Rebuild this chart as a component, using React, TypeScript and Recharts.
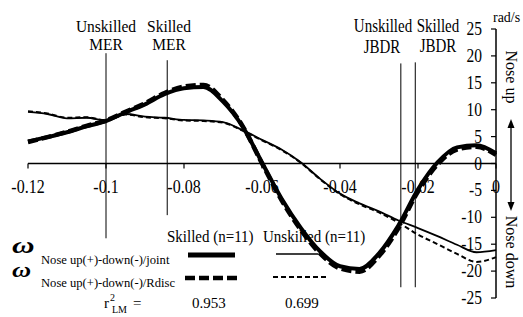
import React from "react";
import { LineChart, Line, XAxis, YAxis, ReferenceLine, ReferenceDot } from "recharts";

// time before ball release (s)
const time = [
  -0.12, -0.115, -0.11, -0.105, -0.1, -0.095, -0.09, -0.085, -0.08, -0.075, -0.07, -0.065, -0.06,
  -0.055, -0.05, -0.045, -0.04, -0.035, -0.03, -0.025, -0.02, -0.015, -0.01, -0.005, 0,
];

// angular velocity, nose up(+) / down(-), rad/s
const skilledJoint = [
  4.1, 4.9, 5.8, 6.9, 7.9, 9.5, 11.0, 12.9, 14.0, 14.2, 11.5, 6.9, 0.2,
  -6.5, -12.0, -16.4, -19.1, -19.6, -16.7, -11.5, -4.8, 0.2, 3.0, 3.4, 1.9,
];
const skilledRdisc = [
  4.0, 4.9, 5.9, 7.0, 8.0, 9.6, 11.2, 13.1, 14.3, 14.6, 11.8, 7.0, 0.0,
  -6.8, -12.4, -16.8, -19.5, -20.1, -17.2, -12.0, -5.2, -0.2, 2.6, 3.1, 1.6,
];
const unskilledJoint = [
  9.6, 9.2, 8.4, 8.5, 8.0, 9.2, 8.7, 8.5, 8.1, 8.0, 7.7, 6.2, 4.4,
  2.6, 0.2, -2.9, -5.6, -7.4, -8.9, -10.6, -12.0, -13.5, -15.1, -16.5, -16.1,
];
const unskilledRdisc = [
  9.7, 9.3, 8.5, 8.6, 8.0, 9.1, 8.6, 8.4, 8.0, 7.9, 7.6, 6.1, 4.3,
  2.5, 0.1, -3.0, -5.7, -7.6, -9.1, -11.0, -13.2, -15.0, -16.8, -18.3, -17.4,
];

const xTicks = [-0.12, -0.1, -0.08, -0.06, -0.04, -0.02, 0];
const xTickLabels = ["-0.12", "-0.1", "-0.08", "-0.06", "-0.04", "-0.02", "0"];
const yTicks = [-25, -20, -15, -10, -5, 0, 5, 10, 15, 20, 25];

const eventNames = ["Unskilled MER", "Skilled MER", "Unskilled JBDR", "Skilled JBDR"];
const eventTimes = [-0.1, -0.0843, -0.0244, -0.0207];
const eventTop = [20.5, 19.2, 18.6, 18.8];
const eventBottom = [-13.9, -9.6, -23, -23];

const rows = time.map((t, i) => ({
  t,
  sj: skilledJoint[i],
  sr: skilledRdisc[i],
  uj: unskilledJoint[i],
  ur: unskilledRdisc[i],
}));

const serif = '"Liberation Serif", "DejaVu Serif", serif';

// the source figure's lettering is a bit stretched vertically, hence sy
function T({ x, y, size, sy = 1.2, anchor = "start", children }: any) {
  return (
    <text
      transform={`translate(${x} ${y}) scale(1 ${sy})`}
      fontSize={size}
      textAnchor={anchor}
      fill="#000"
      style={{ fontFamily: serif }}
    >
      {children}
    </text>
  );
}

function XTick(props: any) {
  const { cx, cy, label } = props;
  return (
    <g>
      <line x1={cx} y1={cy} x2={cx} y2={cy + 5} stroke="#000" strokeWidth={1.2} />
      <T x={cx} y={cy + 29} size={16} anchor="middle">{label}</T>
    </g>
  );
}

function YTick(props: any) {
  const { x, y, payload } = props;
  return <T x={x} y={y + 6} size={15.5} anchor="end">{payload.value}</T>;
}

function Annotations() {
  return (
    <svg width={523} height={317} style={{ position: "absolute", left: 0, top: 0 }}>
      <T x={106} y={32} size={15.5} sy={1.05} anchor="middle">Unskilled</T>
      <T x={106} y={50} size={15.5} sy={1.05} anchor="middle">MER</T>
      <T x={169} y={32} size={15.5} sy={1.05} anchor="middle">Skilled</T>
      <T x={169} y={50} size={15.5} sy={1.05} anchor="middle">MER</T>
      <T x={383} y={32} size={15} anchor="middle">Unskilled</T>
      <T x={382} y={53} size={15} anchor="middle">JBDR</T>
      <T x={438} y={32} size={15} anchor="middle">Skilled</T>
      <T x={438} y={52} size={15} anchor="middle">JBDR</T>
      <T x={493} y={22} size={14} sy={1.1}>rad/s</T>

      <text x={511} y={77} fontSize={16} fill="#000" textAnchor="middle" dominantBaseline="central"
        style={{ fontFamily: serif }} transform="rotate(90 511 77)">Nose up</text>
      <text x={511} y={252} fontSize={16} fill="#000" textAnchor="middle" dominantBaseline="central"
        style={{ fontFamily: serif }} transform="rotate(90 511 252)">Nose down</text>
      <line x1={511} y1={126} x2={511} y2={204} stroke="#000" strokeWidth={1.3} />
      <polygon points="511,119 507.5,128 514.5,128" fill="#000" />
      <polygon points="511,211 507.5,202 514.5,202" fill="#000" />

      <T x={167} y={242} size={15} sy={1.07}>Skilled (n=11)</T>
      <T x={263} y={242} size={15} sy={1.07}>Unskilled (n=11)</T>
      <line x1={188} y1={255} x2={235} y2={255} stroke="#000" strokeWidth={5} />
      <line x1={185} y1={278} x2={237} y2={278} stroke="#000" strokeWidth={4.5} strokeDasharray="10 4" />
      <line x1={276} y1={254} x2={318} y2={254} stroke="#000" strokeWidth={1.6} />
      <line x1={273} y1={277} x2={327} y2={277} stroke="#000" strokeWidth={2} strokeDasharray="5 3" />

      <text transform="translate(12 253) scale(1.3 1)" fontSize={24} fontWeight="bold" fontStyle="italic"
        fill="#000" style={{ fontFamily: serif }}>ω</text>
      <text transform="translate(12 277) scale(1.2 1)" fontSize={22} fontWeight="bold" fontStyle="italic"
        fill="#000" style={{ fontFamily: serif }}>ω</text>
      <T x={41} y={264} size={12.6} sy={0.92}>Nose up(+)-down(-)/joint</T>
      <T x={41} y={287} size={12.6} sy={0.92}>Nose up(+)-down(-)/Rdisc</T>

      <T x={104} y={308} size={15} sy={0.95}>r</T>
      <T x={110} y={301} size={10} sy={1}>2</T>
      <T x={112} y={313} size={10} sy={1}>LM</T>
      <T x={133} y={308} size={15} sy={0.95}>=</T>
      <T x={192} y={308} size={15} sy={1}>0.953</T>
      <T x={285} y={308} size={15} sy={1}>0.699</T>
    </svg>
  );
}

export default function App() {
  return (
    <div style={{ position: "absolute", left: 0, top: 0, width: 523, height: 317, background: "#fff" }}>
      <Annotations />
      <div style={{ position: "absolute", left: 0, top: 0 }}>
        <LineChart width={523} height={317} data={rows} margin={{ top: 29, right: 27, bottom: 19, left: 28 }}>
          <XAxis dataKey="t" type="number" domain={[-0.12, 0]} hide />
          <YAxis
            orientation="right"
            mirror
            type="number"
            domain={[-25, 25]}
            ticks={yTicks}
            interval={0}
            tickSize={5}
            tickMargin={9}
            axisLine={{ stroke: "#000", strokeWidth: 1.5 }}
            tickLine={{ stroke: "#000", strokeWidth: 1.2 }}
            tick={<YTick />}
          />
          <ReferenceLine y={0} stroke="#000" strokeWidth={1.3} />
          {eventTimes.map((x, i) => (
            <ReferenceLine
              key={eventNames[i]}
              segment={[{ x, y: eventTop[i] }, { x, y: eventBottom[i] }]}
              stroke="#000"
              strokeWidth={1}
            />
          ))}
          {xTicks.map((x, i) => (
            <ReferenceDot key={x} x={x} y={0} r={0} shape={(p: any) => <XTick {...p} label={xTickLabels[i]} />} />
          ))}
          <Line dataKey="ur" type="monotone" stroke="#000" strokeWidth={2} strokeDasharray="5 3" dot={false} isAnimationActive={false} />
          <Line dataKey="uj" type="monotone" stroke="#000" strokeWidth={1.8} dot={false} isAnimationActive={false} />
          <Line dataKey="sr" type="monotone" stroke="#000" strokeWidth={4.5} strokeDasharray="10 4" dot={false} isAnimationActive={false} />
          <Line dataKey="sj" type="monotone" stroke="#000" strokeWidth={4} dot={false} isAnimationActive={false} />
        </LineChart>
      </div>
    </div>
  );
}
